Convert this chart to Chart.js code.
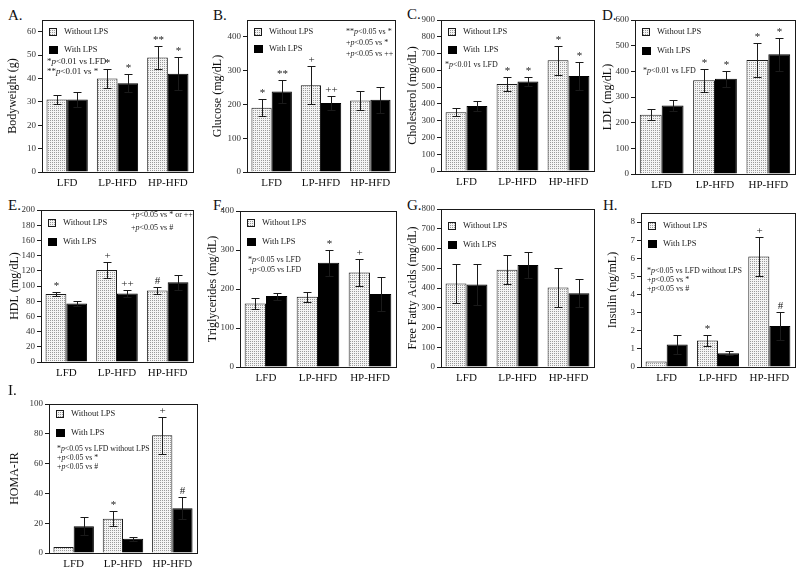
<!DOCTYPE html>
<html>
<head>
<title>LPS panels</title>
<script src="https://cdn.jsdelivr.net/npm/chart.js@4.4.1/dist/chart.umd.min.js"></script>
<style>
  body { margin: 0; background: #fff; }
  #wrap { position: relative; width: 800px; height: 574px; overflow: hidden; }
  canvas { position: absolute; }
  .letter { position: absolute; font: 15px "Liberation Serif", serif; color: #111; line-height: 1; }
</style>
</head>
<body>
<div id="wrap"></div>
<script>
// groups on the x axis
var groups = ['LFD', 'LP-HFD', 'HP-HFD'];

// A. bodyweight
var bodyweightNoLps = [31, 40, 49];
var bodyweightNoLpsErr = [2, 4, 5];
var bodyweightLps = [31, 38, 42];
var bodyweightLpsErr = [3, 4, 7];
var bodyweightNoLpsMarks = ['', '*', '**'];
var bodyweightLpsMarks = ['', '*', '*'];
var bodyweightNotes = ['*p<0.01 vs LFD', '**p<0.01 vs *'];

// B. glucose
var glucoseNoLps = [190, 257, 212];
var glucoseNoLpsErr = [25, 57, 29];
var glucoseLps = [238, 204, 214];
var glucoseLpsErr = [33, 20, 39];
var glucoseNoLpsMarks = ['*', '+', ''];
var glucoseLpsMarks = ['**', '++', ''];
var glucoseNotes = ['**p<0.05 vs *', '+p<0.05 vs *', '+p<0.05 vs ++'];

// C. cholesterol
var cholNoLps = [350, 518, 660];
var cholNoLpsErr = [24, 40, 87];
var cholLps = [388, 534, 566];
var cholLpsErr = [28, 26, 86];
var cholNoLpsMarks = ['', '*', '*'];
var cholLpsMarks = ['', '*', '*'];
var cholNotes = ['*p<0.01 vs LFD'];

// D. LDL
var ldlNoLps = [231, 365, 444];
var ldlNoLpsErr = [21, 45, 67];
var ldlLps = [267, 371, 467];
var ldlLpsErr = [21, 31, 64];
var ldlNoLpsMarks = ['', '*', '*'];
var ldlLpsMarks = ['', '*', '*'];
var ldlNotes = ['*p<0.01 vs LFD'];

// E. HDL
var hdlNoLps = [89.5, 121, 94];
var hdlNoLpsErr = [3, 11, 4.5];
var hdlLps = [77, 90, 105];
var hdlLpsErr = [3, 5, 10];
var hdlNoLpsMarks = ['*', '+', '#'];
var hdlLpsMarks = ['', '++', ''];
var hdlNotes = ['+p<0.05 vs * or ++', '+p<0.05 vs #'];

// F. triglycerides
var tgNoLps = [163, 180, 242];
var tgNoLpsErr = [13, 13, 34];
var tgLps = [182, 267, 187];
var tgLpsErr = [9, 33, 43];
var tgNoLpsMarks = ['', '', '+'];
var tgLpsMarks = ['', '*', ''];
var tgNotes = ['*p<0.05 vs LFD', '+p<0.05 vs LFD'];

// G. free fatty acids
var ffaNoLps = [423, 493, 403];
var ffaNoLpsErr = [100, 72, 97];
var ffaLps = [418, 517, 374];
var ffaLpsErr = [103, 65, 70];
var ffaNoLpsMarks = ['', '', ''];
var ffaLpsMarks = ['', '', ''];
var ffaNotes = [];

// H. insulin
var insNoLps = [0.3, 1.46, 6.1];
var insNoLpsErr = [0, 0.32, 1.1];
var insLps = [1.24, 0.76, 2.26];
var insLpsErr = [0.55, 0.12, 0.75];
var insNoLpsMarks = ['', '*', '+'];
var insLpsMarks = ['', '', '#'];
var insNotes = ['*p<0.05 vs LFD without LPS', '+p<0.05 vs *', '+p<0.05 vs #'];

// I. HOMA-IR
var homaNoLps = [4, 23, 79];
var homaNoLpsErr = [0, 5, 12.5];
var homaLps = [18, 9.5, 30];
var homaLpsErr = [6, 1.3, 7.5];
var homaNoLpsMarks = ['', '*', '+'];
var homaLpsMarks = ['', '', '#'];
var homaNotes = ['*p<0.05 vs LFD without LPS', '+p<0.05 vs *', '+p<0.05 vs #'];

var SERIF = '"Liberation Serif", "Times New Roman", serif';

var makeDots = () => {
    var c = document.createElement('canvas');
    c.width = 2; c.height = 2;
    var g = c.getContext('2d');
    g.fillStyle = '#f4f4f4';
    g.fillRect(0, 0, 2, 2);
    g.fillStyle = '#9a9a9a';
    g.fillRect(0, 0, 1, 1);
    return g.createPattern(c, 'repeat');
};
var dots = makeDots();

// text with an italic p
function drawNote(ctx, s, x, y, size) {
    var i = s.indexOf('p<');
    var normal = size + 'px ' + SERIF, italic = 'italic ' + size + 'px ' + SERIF;
    ctx.font = normal;
    if (i < 0) { ctx.fillText(s, x, y); return; }
    var pre = s.slice(0, i);
    ctx.fillText(pre, x, y);
    x += ctx.measureText(pre).width;
    ctx.font = italic;
    ctx.fillText('p', x, y);
    x += ctx.measureText('p').width;
    ctx.font = normal;
    ctx.fillText(s.slice(i + 1), x, y);
}

var decor = {
    id: 'decor',
    afterDatasetsDraw(chart, args, opts) {
        var ctx = chart.ctx, a = chart.chartArea, ys = chart.scales.y;
        ctx.save();
        ctx.strokeStyle = '#1a1a1a';
        ctx.fillStyle = '#1a1a1a';
        ctx.lineWidth = 1;

        // error bars and marks
        chart.data.datasets.forEach((ds, di) => {
            var meta = chart.getDatasetMeta(di);
            meta.data.forEach((bar, i) => {
                var v = ds.data[i], e = ds.err[i];
                var x = Math.round(bar.x) + 0.5;
                var yt = Math.round(ys.getPixelForValue(v + e)) + 0.5;
                var yb = Math.round(ys.getPixelForValue(v - e)) + 0.5;
                if (e > 0) {
                    ctx.beginPath();
                    ctx.moveTo(x, yb); ctx.lineTo(x, yt);
                    ctx.moveTo(x - 4, yt); ctx.lineTo(x + 4, yt);
                    ctx.moveTo(x - 4, yb); ctx.lineTo(x + 4, yb);
                    ctx.stroke();
                }
                var m = ds.marks[i];
                if (m) {
                    ctx.font = '11px ' + SERIF;
                    ctx.textAlign = 'center';
                    ctx.textBaseline = 'alphabetic';
                    ctx.fillText(m, x, yt - 4);
                }
            });
        });

        // frame box
        ctx.strokeRect(Math.round(a.left) + 0.5, Math.round(a.top) + 0.5,
            Math.round(a.right - a.left), Math.round(a.bottom - a.top));

        // legend inside the frame
        var lg = opts.legendAt;
        var sx = a.left + 7, tx = a.left + 22;
        ctx.fillStyle = dots;
        ctx.fillRect(sx, a.top + lg[0] - 4, 8, 8);
        ctx.strokeRect(sx + 0.5, a.top + lg[0] - 3.5, 7, 7);
        ctx.fillStyle = '#000';
        ctx.fillRect(sx, a.top + lg[1] - 4, 9, 8);
        ctx.font = '8.5px ' + SERIF;
        ctx.textAlign = 'left';
        ctx.textBaseline = 'middle';
        ctx.fillStyle = '#1a1a1a';
        ctx.fillText('Without LPS', tx, a.top + lg[0]);
        ctx.fillText(opts.withLabel, tx, a.top + lg[1]);

        // p-value notes
        var na = opts.noteAt;
        (opts.notes || []).forEach((s, k) => {
            drawNote(ctx, s, a.left + na[0], a.top + na[1] + k * na[2], opts.noteSize);
        });
        ctx.restore();
    }
};

var panels = [
    { letter: 'A.', lx: 8, ly: 8, titleX: 13, frame: [42, 20, 193, 172], max: 65, top: 60, step: 10,
      title: 'Bodyweight (g)', a: bodyweightNoLps, ae: bodyweightNoLpsErr, am: bodyweightNoLpsMarks,
      b: bodyweightLps, be: bodyweightLpsErr, bm: bodyweightLpsMarks, notes: bodyweightNotes,
      legendAt: [12, 30], noteAt: [5, 42, 10], noteSize: 9, withLabel: 'With LPS' },
    { letter: 'B.', lx: 213, ly: 8, titleX: 218, frame: [247, 20, 395, 172], max: 450, top: 400, step: 100,
      title: 'Glucose (mg/dL)', a: glucoseNoLps, ae: glucoseNoLpsErr, am: glucoseNoLpsMarks,
      b: glucoseLps, be: glucoseLpsErr, bm: glucoseLpsMarks, notes: glucoseNotes,
      legendAt: [12, 29], noteAt: [99, 12, 11], noteSize: 8, withLabel: 'With LPS' },
    { letter: 'C.', lx: 407, ly: 7, titleX: 413, frame: [441, 20, 594, 171], max: 900, top: 900, step: 100,
      title: 'Cholesterol (mg/dL)', a: cholNoLps, ae: cholNoLpsErr, am: cholNoLpsMarks,
      b: cholLps, be: cholLpsErr, bm: cholLpsMarks, notes: cholNotes,
      legendAt: [12, 30], noteAt: [4, 45, 10], noteSize: 8, withLabel: 'With  LPS' },
    { letter: 'D.', lx: 602, ly: 8, titleX: 608, frame: [635, 20, 795, 174], max: 600, top: 600, step: 100,
      title: 'LDL (mg/dL)', a: ldlNoLps, ae: ldlNoLpsErr, am: ldlNoLpsMarks,
      b: ldlLps, be: ldlLpsErr, bm: ldlLpsMarks, notes: ldlNotes,
      legendAt: [12, 31], noteAt: [8, 51, 10], noteSize: 8, withLabel: 'With LPS' },
    { letter: 'E.', lx: 8, ly: 198, titleX: 15, frame: [41, 210, 193, 362], max: 200, top: 200, step: 20,
      title: 'HDL (mg/dL)', a: hdlNoLps, ae: hdlNoLpsErr, am: hdlNoLpsMarks,
      b: hdlLps, be: hdlLpsErr, bm: hdlLpsMarks, notes: hdlNotes,
      legendAt: [13, 32], noteAt: [90, 5, 13], noteSize: 8, withLabel: 'With LPS' },
    { letter: 'F.', lx: 213, ly: 198, titleX: 213, frame: [240, 211, 396, 367], max: 400, top: 400, step: 100,
      title: 'Triglycerides (mg/dL)', a: tgNoLps, ae: tgNoLpsErr, am: tgNoLpsMarks,
      b: tgLps, be: tgLpsErr, bm: tgLpsMarks, notes: tgNotes,
      legendAt: [12, 31], noteAt: [8, 49, 10], noteSize: 8, withLabel: 'With LPS' },
    { letter: 'G.', lx: 407, ly: 198, titleX: 413, frame: [441, 209, 594, 367], max: 800, top: 800, step: 100,
      title: 'Free Fatty Acids (mg/dL)', a: ffaNoLps, ae: ffaNoLpsErr, am: ffaNoLpsMarks,
      b: ffaLps, be: ffaLpsErr, bm: ffaLpsMarks, notes: ffaNotes,
      legendAt: [17, 36], noteAt: [0, 0, 0], noteSize: 8, withLabel: 'With LPS' },
    { letter: 'H.', lx: 603, ly: 198, titleX: 613, frame: [641, 213, 795, 367], max: 8.5, top: 8, step: 1,
      title: 'Insulin (ng/mL)', a: insNoLps, ae: insNoLpsErr, am: insNoLpsMarks,
      b: insLps, be: insLpsErr, bm: insLpsMarks, notes: insNotes,
      legendAt: [13, 31], noteAt: [6, 58, 9], noteSize: 8, withLabel: 'With LPS' },
    { letter: 'I.', lx: 8, ly: 383, titleX: 15, frame: [49, 404, 197, 553], max: 100, top: 100, step: 20,
      title: 'HOMA-IR', a: homaNoLps, ae: homaNoLpsErr, am: homaNoLpsMarks,
      b: homaLps, be: homaLpsErr, bm: homaLpsMarks, notes: homaNotes,
      legendAt: [10, 29], noteAt: [8, 45, 9], noteSize: 7.8, withLabel: 'With LPS' }
];

var wrap = document.getElementById('wrap');

var makePanel = (p) => {
    var L = p.frame[0], T = p.frame[1], R = p.frame[2], B = p.frame[3];
    var cx = Math.round(p.titleX - 7.2);
    var padTop = 8, padRight = 4, xh = 22;

    var lab = document.createElement('div');
    lab.className = 'letter';
    lab.style.left = p.lx + 'px';
    lab.style.top = p.ly + 'px';
    lab.textContent = p.letter;
    wrap.appendChild(lab);

    var cv = document.createElement('canvas');
    cv.width = R + padRight - cx;
    cv.height = B - T + padTop + xh;
    cv.style.left = cx + 'px';
    cv.style.top = (T - padTop) + 'px';
    wrap.appendChild(cv);

    new Chart(cv, {
        type: 'bar',
        data: {
            labels: groups,
            datasets: [
                { label: 'Without LPS', data: p.a, err: p.ae, marks: p.am,
                  backgroundColor: dots, borderColor: '#1a1a1a', borderWidth: 1,
                  categoryPercentage: 0.82, barPercentage: 1.0 },
                { label: p.withLabel, data: p.b, err: p.be, marks: p.bm,
                  backgroundColor: '#000', borderColor: '#000', borderWidth: 1,
                  categoryPercentage: 0.82, barPercentage: 1.0 }
            ]
        },
        options: {
            responsive: false,
            animation: false,
            devicePixelRatio: 1,
            layout: { padding: { top: padTop, right: padRight, left: 0, bottom: 0 } },
            plugins: {
                legend: { display: false },
                tooltip: { enabled: false },
                decor: { legendAt: p.legendAt, noteAt: p.noteAt, noteSize: p.noteSize,
                         notes: p.notes, withLabel: p.withLabel }
            },
            scales: {
                x: {
                    grid: { display: false, drawTicks: false, tickLength: 0 },
                    border: { display: true, color: '#1a1a1a' },
                    ticks: { color: '#111', font: { family: SERIF, size: 11 }, padding: 5, maxRotation: 0 },
                    afterFit: (s) => { s.height = xh; }
                },
                y: {
                    min: 0,
                    max: p.max,
                    ticks: { stepSize: p.step, color: '#333', font: { family: SERIF, size: 9 }, padding: 2 },
                    grid: { drawOnChartArea: false, tickLength: 4, color: '#1a1a1a' },
                    border: { display: true, color: '#1a1a1a' },
                    title: { display: true, text: p.title, color: '#111', font: { family: SERIF, size: 12 }, padding: 0 },
                    afterBuildTicks: (s) => {
                        var t = [];
                        for (var v = 0; v <= p.top + 1e-9; v += p.step) t.push({ value: +v.toFixed(4) });
                        s.ticks = t;
                    },
                    afterFit: (s) => { s.width = L - cx; }
                }
            }
        },
        plugins: [decor]
    });
};

panels.forEach(makePanel);
</script>
</body>
</html>
